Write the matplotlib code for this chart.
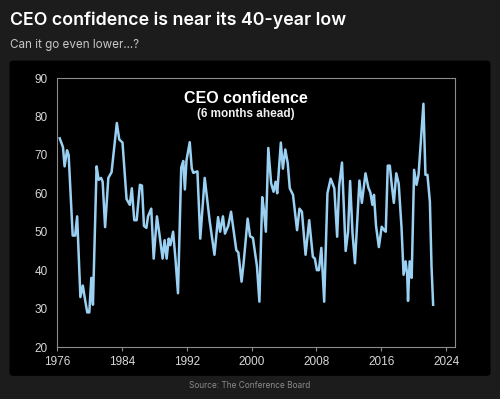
import matplotlib
matplotlib.use('Agg')
import matplotlib.pyplot as plt
from matplotlib.patches import FancyBboxPatch

# CEO confidence readings (decimal year, index level)
years = [
    1976.3, 1976.7, 1976.9, 1977.2, 1977.4, 1977.9, 1978.2, 1978.45, 1978.85, 1979.15,
    1979.45, 1979.7, 1979.95, 1980.2, 1980.4, 1980.85, 1981.1, 1981.4, 1981.6, 1981.9,
    1982.3, 1982.7, 1983.05, 1983.35, 1983.65, 1984.05, 1984.55, 1984.95, 1985.2, 1985.5,
    1985.8, 1986.2, 1986.45, 1986.7, 1987.0, 1987.2, 1987.6, 1987.9, 1988.3, 1988.6,
    1989.0, 1989.25, 1989.5, 1989.75, 1989.95, 1990.3, 1990.6, 1990.9, 1991.3, 1991.55,
    1991.75, 1991.95, 1992.35, 1992.6, 1992.8, 1993.0, 1993.3, 1993.65, 1994.2, 1994.8,
    1995.4, 1995.85, 1996.1, 1996.45, 1996.7, 1997.1, 1997.45, 1998.1, 1998.35, 1998.75,
    1999.0, 1999.5, 1999.8, 2000.15, 2000.4, 2000.65, 2000.95, 2001.3, 2001.5, 2001.75,
    2002.05, 2002.4, 2002.7, 2002.95, 2003.15, 2003.6, 2003.85, 2004.15, 2004.45, 2004.7,
    2005.1, 2005.6, 2005.9, 2006.2, 2006.65, 2007.1, 2007.55, 2007.8, 2008.05, 2008.3,
    2008.6, 2008.95, 2009.35, 2009.75, 2010.2, 2010.55, 2010.8, 2011.15, 2011.6, 2011.9,
    2012.15, 2012.45, 2012.75, 2013.3, 2013.6, 2014.05, 2014.4, 2014.65, 2014.9, 2015.1,
    2015.35, 2015.7, 2016.05, 2016.35, 2016.55, 2016.8, 2017.05, 2017.3, 2017.55, 2017.85,
    2018.15, 2018.5, 2018.75, 2019.0, 2019.2, 2019.3, 2019.5, 2019.75, 2020.05, 2020.35,
    2020.6, 2020.95, 2021.2, 2021.45, 2021.7, 2022.0, 2022.2, 2022.4,
]
confidence = [
    74.3, 72, 67, 71.2, 70, 49, 49, 54, 33, 36,
    32, 29, 29, 38, 31, 67, 63.5, 64, 63, 51.2,
    64, 65.5, 72.5, 78.3, 74, 73.2, 58.5, 57, 61.3, 53,
    53, 62.2, 62, 51.5, 51, 54, 56, 43, 54, 49.5,
    43, 47.8, 43, 48.2, 46.5, 50, 42.6, 34, 66.7, 68.4,
    61, 68.6, 73.3, 66.5, 65.3, 65.5, 65.7, 48.2, 64, 53,
    44, 53.8, 50, 54, 49.5, 51.5, 55.2, 45.2, 44.6, 37,
    41.8, 53.4, 48.8, 48.4, 44.7, 41, 31.8, 59, 55.8, 50,
    71.8, 62.6, 60.4, 63, 60, 73.2, 66.4, 71.4, 67.8, 61.3,
    59.6, 50.4, 56, 55.2, 44, 53, 43.5, 43, 40, 40,
    45.8, 31.8, 60, 63.8, 61.3, 48.7, 62, 68, 45, 50,
    63.2, 49.5, 41.8, 63.3, 57.5, 65.2, 61.5, 60.2, 57, 59.6,
    51.5, 46, 51.3, 50.4, 50, 67.2, 67.2, 62, 57.5, 65.2,
    62.5, 51, 38.8, 42.3, 38.8, 32, 42.3, 38, 66.1, 62.2,
    64.8, 75.5, 83.3, 64.8, 64.8, 57.8, 41, 31,
]
x_ticks = [1976, 1984, 1992, 2000, 2008, 2016, 2024]
y_ticks = [20, 30, 40, 50, 60, 70, 80, 90]

fig = plt.figure(figsize=(5, 3.99), dpi=100)
fig.patch.set_facecolor("#1c1c1c")

# black chart panel with rounded corners, kept behind the axes
panel = FancyBboxPatch((0.019, 0.058), 0.962, 0.79,
                       boxstyle="round,pad=0,rounding_size=0.008",
                       transform=fig.transFigure, facecolor="black",
                       edgecolor="none", zorder=-10)
fig.patches.append(panel)

fig.text(0.019, 0.948, "CEO confidence is near its 40-year low", color="white",
         fontsize=12.8, fontweight="semibold", family="Inter", va="center")
fig.text(0.019, 0.887, "Can it go even lower...?", color="#c8c8c8",
         fontsize=8.4, family="Inter", va="center")
fig.text(0.5, 0.035, "Source: The Conference Board", color="#8a8a8a",
         fontsize=6, family="Inter", ha="center", va="center")

ax = fig.add_axes([0.1146, 0.1303, 0.7954, 0.6742])
ax.set_facecolor("black")
ax.plot(years, confidence, color="#9ad0f2", lw=1.8, solid_joinstyle="round")

ax.set_xlim(1976, 2025.1)
ax.set_ylim(20, 90)
ax.set_xticks(x_ticks)
ax.set_yticks(y_ticks)
for s in ax.spines.values():
    s.set_color("#8c8c8c")
    s.set_linewidth(0.8)
ax.tick_params(axis="x", colors="#8c8c8c", length=3, direction="out",
               labelcolor="#d8d8d8", labelsize=8.5, pad=3.5)
ax.tick_params(axis="y", length=0, labelcolor="#d8d8d8", labelsize=8.5, pad=7)
for lab in ax.get_xticklabels() + ax.get_yticklabels():
    lab.set_family("Liberation Sans")

ax.text(0.4745, 0.925, "CEO confidence", transform=ax.transAxes, ha="center",
        va="center", color="white", fontsize=11.5, fontweight="bold",
        family="Liberation Sans")
ax.text(0.4745, 0.867, "(6 months ahead)", transform=ax.transAxes, ha="center",
        va="center", color="#f0f0f0", fontsize=8.5, fontweight="bold",
        family="Liberation Sans")

fig.savefig("out.png", dpi=100, facecolor=fig.get_facecolor())
